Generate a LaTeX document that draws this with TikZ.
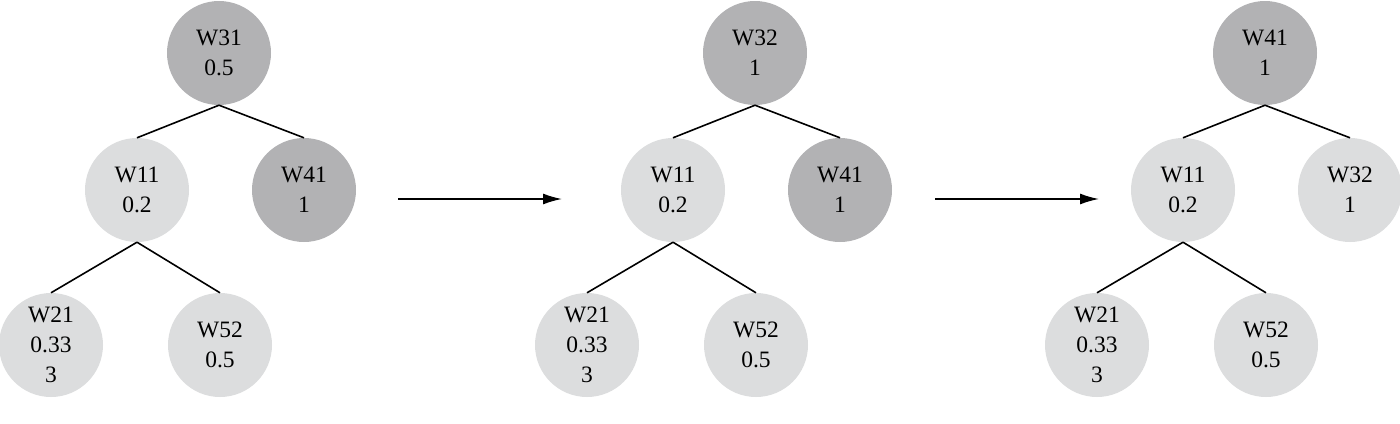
\documentclass[tikz,border=0pt]{standalone}
\usepackage{fontspec}
\setmainfont{Liberation Serif}
\usetikzlibrary{arrows.meta}
\definecolor{darknode}{RGB}{178,178,180}
\definecolor{lightnode}{RGB}{220,221,222}
\tikzset{
  wnode/.style={circle,minimum size=104pt,inner sep=0pt,align=center,font=\fontsize{23.5}{30}\selectfont},
  dk/.style={wnode,fill=darknode},
  lt/.style={wnode,fill=lightnode},
  edge/.style={line width=1.6pt},
  flow/.style={line width=1.6pt,-{Latex[length=19pt,width=11pt]}}
}
\begin{document}
\begin{tikzpicture}[x=1pt,y=-1pt]
  \useasboundingbox (0,0) rectangle (1400,423);
  % the three trees, left to right
  \foreach \t/\x/\rs/\rl/\cs/\cl in {1/219/dk/{W31\\0.5}/dk/{W41\\1},
      2/755/dk/{W32\\1}/dk/{W41\\1}, 3/1265/dk/{W41\\1}/lt/{W32\\1}} {
    \node[\rs] (r\t) at (\x,53) {\rl};
    \node[lt] (a\t) at (\x-82,190) {W11\\0.2};
    \node[\cs] (c\t) at (\x+85,190) {\cl};
    \node[lt] (b\t) at (\x-168,345) {W21\\0.33\\3};
    \node[lt] (d\t) at (\x+1,345) {W52\\0.5};
    \draw[edge] (r\t.south) -- (a\t.north);
    \draw[edge] (r\t.south) -- (c\t.north);
    \draw[edge] (a\t.south) -- (b\t.north);
    \draw[edge] (a\t.south) -- (d\t.north);
  }
  % arrows between the trees
  \coordinate (s1) at (398,199); \coordinate (e1) at (562,199);
  \coordinate (s2) at (935,199); \coordinate (e2) at (1099,199);
  \draw[flow] (s1) -- (e1);
  \draw[flow] (s2) -- (e2);
\end{tikzpicture}
\end{document}
